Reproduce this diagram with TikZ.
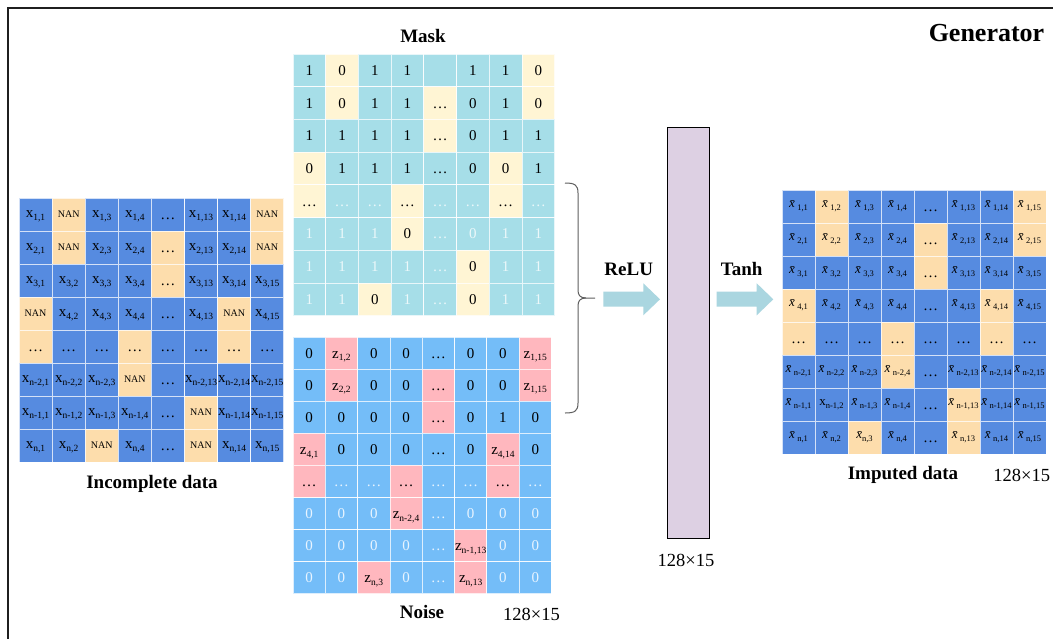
\documentclass[tikz,border=0pt]{standalone}
\usepackage{fontspec}
\setmainfont{Liberation Serif}
\definecolor{colB}{RGB}{86,139,224}
\definecolor{colT}{RGB}{253,221,172}
\definecolor{colC}{RGB}{166,222,232}
\definecolor{colc}{RGB}{166,222,232}
\definecolor{colY}{RGB}{255,245,212}
\definecolor{colN}{RGB}{116,189,248}
\definecolor{coln}{RGB}{116,189,248}
\definecolor{colP}{RGB}{255,183,190}
\colorlet{txtB}{black}
\colorlet{txtT}{black}
\colorlet{txtC}{black}
\colorlet{txtY}{black}
\colorlet{txtN}{black}
\colorlet{txtP}{black}
\definecolor{txtc}{RGB}{236,248,250}
\definecolor{txtn}{RGB}{232,244,255}
\definecolor{arrowcol}{RGB}{170,214,224}
\definecolor{barcol}{RGB}{221,208,227}
\definecolor{bracecol}{RGB}{95,95,95}
\newcommand\sbs[1]{\raisebox{-2.8pt}{\fontsize{9.5}{10}\selectfont #1}}
\newcommand\xs[1]{\raisebox{2pt}{x\sbs{#1}}}
\newcommand\zs[1]{z\sbs{#1}}
\newcommand\xb[1]{\raisebox{4pt}{{\fontsize{13}{14}\selectfont\itshape \={x}}\kern2.5pt\raisebox{-3pt}{\fontsize{8.5}{10}\selectfont #1}}}
\newcommand\xbn[1]{\raisebox{4pt}{{\fontsize{13}{14}\selectfont\itshape \={x}}\raisebox{-3pt}{\fontsize{8.5}{10}\selectfont #1}}}
\newcommand\xp[1]{\raisebox{4pt}{{\fontsize{13}{14}\selectfont x}\raisebox{-3pt}{\fontsize{8.5}{10}\selectfont #1}}}
\newcommand\nan{\raisebox{2pt}{\fontsize{10}{12}\selectfont NAN}}
\tikzset{
  cellbox/.style={inner sep=0pt, outer sep=0pt, draw=white, draw opacity=0.75, line width=0.8pt, font=\fontsize{15}{17}\selectfont, text height=10pt, text depth=0pt},
  title/.style={font=\bfseries\fontsize{19}{21}\selectfont, anchor=base, inner sep=0pt},
  dimlabel/.style={font=\fontsize{18.5}{20}\selectfont, anchor=base, inner sep=0pt},
  barbox/.style={draw=black, line width=0.9pt, fill=barcol, inner sep=0pt, minimum width=42pt, minimum height=411pt},
}
% #1 name, #2 x0, #3 y0, #4 cw, #5 ch, #6 row, #7 list
\newcommand\gridrow[7]{%
  \foreach \ty/\tx [count=\c] in {#7} {%
    \node[cellbox, minimum width=#4pt, minimum height=#5pt, fill=col\ty, text=txt\ty] (#1-#6-\c) at ({#2+(\c-0.5)*#4},{#3+(#6-0.5)*#5}) {\tx};
  }%
}
\begin{document}
\begin{tikzpicture}[x=1pt,y=-1pt]
\useasboundingbox (0,0) rectangle (1053,638);
\fill[white] (0,0) rectangle (1053,638);
\draw[line width=2.3pt, black!88] (8,700) -- (8,8) -- (1100,8);

% Incomplete data
\gridrow{inc}{19}{198}{33.1}{33}{1}{B/{\xs{1,1}}, T/\nan, B/{\xs{1,3}}, B/{\xs{1,4}}, B/…, B/{\xs{1,13}}, B/{\xs{1,14}}, T/\nan}
\gridrow{inc}{19}{198}{33.1}{33}{2}{B/{\xs{2,1}}, T/\nan, B/{\xs{2,3}}, B/{\xs{2,4}}, T/…, B/{\xs{2,13}}, B/{\xs{2,14}}, T/\nan}
\gridrow{inc}{19}{198}{33.1}{33}{3}{B/{\xs{3,1}}, B/{\xs{3,2}}, B/{\xs{3,3}}, B/{\xs{3,4}}, T/…, B/{\xs{3,13}}, B/{\xs{3,14}}, B/{\xs{3,15}}}
\gridrow{inc}{19}{198}{33.1}{33}{4}{T/\nan, B/{\xs{4,2}}, B/{\xs{4,3}}, B/{\xs{4,4}}, B/…, B/{\xs{4,13}}, T/\nan, B/{\xs{4,15}}}
\gridrow{inc}{19}{198}{33.1}{33}{5}{T/…, B/…, B/…, T/…, B/…, B/…, T/…, B/…}
\gridrow{inc}{19}{198}{33.1}{33}{6}{B/{\xs{n-2,1}}, B/{\xs{n-2,2}}, B/{\xs{n-2,3}}, T/\nan, B/…, B/{\xs{n-2,13}}, B/{\xs{n-2,14}}, B/{\xs{n-2,15}}}
\gridrow{inc}{19}{198}{33.1}{33}{7}{B/{\xs{n-1,1}}, B/{\xs{n-1,2}}, B/{\xs{n-1,3}}, B/{\xs{n-1,4}}, B/…, T/\nan, B/{\xs{n-1,14}}, B/{\xs{n-1,15}}}
\gridrow{inc}{19}{198}{33.1}{33}{8}{B/{\xs{n,1}}, B/{\xs{n,2}}, T/\nan, B/{\xs{n,4}}, B/…, T/\nan, B/{\xs{n,14}}, B/{\xs{n,15}}}
\node[title] (inclabel) at (152,488) {Incomplete data};

% Mask
\gridrow{mask}{293}{54}{32.7}{32.7}{1}{C/1, Y/0, C/1, C/1, C/{}, C/1, C/1, Y/0}
\gridrow{mask}{293}{54}{32.7}{32.7}{2}{C/1, Y/0, C/1, C/1, Y/…, C/0, C/1, Y/0}
\gridrow{mask}{293}{54}{32.7}{32.7}{3}{C/1, C/1, C/1, C/1, Y/…, C/0, C/1, C/1}
\gridrow{mask}{293}{54}{32.7}{32.7}{4}{Y/0, C/1, C/1, C/1, C/…, C/0, Y/0, C/1}
\gridrow{mask}{293}{54}{32.7}{32.7}{5}{Y/…, c/…, c/…, Y/…, c/…, c/…, Y/…, c/…}
\gridrow{mask}{293}{54}{32.7}{32.7}{6}{c/1, c/1, c/1, Y/0, c/…, c/0, c/1, c/1}
\gridrow{mask}{293}{54}{32.7}{32.7}{7}{c/1, c/1, c/1, c/1, c/…, Y/0, c/1, c/1}
\gridrow{mask}{293}{54}{32.7}{32.7}{8}{c/1, c/1, Y/0, c/1, c/…, Y/0, c/1, c/1}
\node[title] (masklabel) at (423,42) {Mask};

% Noise
\gridrow{noise}{293}{337}{32.3}{32.1}{1}{N/0, P/{\zs{1,2}}, N/0, N/0, N/…, N/0, N/0, P/{\zs{1,15}}}
\gridrow{noise}{293}{337}{32.3}{32.1}{2}{N/0, P/{\zs{2,2}}, N/0, N/0, P/…, N/0, N/0, P/{\zs{1,15}}}
\gridrow{noise}{293}{337}{32.3}{32.1}{3}{N/0, N/0, N/0, N/0, P/…, N/0, N/1, N/0}
\gridrow{noise}{293}{337}{32.3}{32.1}{4}{P/{\zs{4,1}}, N/0, N/0, N/0, N/…, N/0, P/{\zs{4,14}}, N/0}
\gridrow{noise}{293}{337}{32.3}{32.1}{5}{P/…, n/…, n/…, P/…, n/…, n/…, P/…, n/…}
\gridrow{noise}{293}{337}{32.3}{32.1}{6}{n/0, n/0, n/0, P/{\zs{n-2,4}}, n/…, n/0, n/0, n/0}
\gridrow{noise}{293}{337}{32.3}{32.1}{7}{n/0, n/0, n/0, n/0, n/…, P/{\zs{n-1,13}}, n/0, n/0}
\gridrow{noise}{293}{337}{32.3}{32.1}{8}{n/0, n/0, P/{\zs{n,3}}, n/0, n/…, P/{\zs{n,13}}, n/0, n/0}
\node[title] (noiselabel) at (422,618) {Noise};
\node[dimlabel] (noisedim) at (531.5,620) {128×15};

% Brace
\draw[bracecol, line width=1pt] (565,183) .. controls (575,183) and (578,185) .. (578,193) -- (578,290)
   .. controls (578,295) and (580,298) .. (586,298) -- (595,298);
\draw[bracecol, line width=1pt] (586,298) .. controls (580,298) and (578,301) .. (578,306) -- (578,403)
   .. controls (578,411) and (575,413) .. (565,413);

% ReLU arrow
\node[title] (relu) at (628.7,275) {ReLU};
\fill[arrowcol] (603.3,291.7) -- (643.3,291.7) -- (643.3,283.3) -- (660,299.3) -- (643.3,315.3) -- (643.3,306.7) -- (603.3,306.7) -- cycle;

% Bar
\node[barbox] (bar) at (688,332.5) {};
\node[dimlabel] (bardim) at (686,566) {128×15};

% Tanh arrow
\node[title] (tanh) at (741.7,275) {Tanh};
\fill[arrowcol] (716.7,291.7) -- (756.7,291.7) -- (756.7,283.3) -- (773.3,299.3) -- (756.7,315.3) -- (756.7,306.7) -- (716.7,306.7) -- cycle;

% Imputed data
\gridrow{imp}{782}{190}{33}{33}{1}{B/{\xb{1,1}}, T/{\xb{1,2}}, B/{\xb{1,3}}, B/{\xb{1,4}}, B/…, B/{\xb{1,13}}, B/{\xb{1,14}}, T/{\xb{1,15}}}
\gridrow{imp}{782}{190}{33}{33}{2}{B/{\xb{2,1}}, T/{\xb{2,2}}, B/{\xb{2,3}}, B/{\xb{2,4}}, T/…, B/{\xb{2,13}}, B/{\xb{2,14}}, T/{\xb{2,15}}}
\gridrow{imp}{782}{190}{33}{33}{3}{B/{\xb{3,1}}, B/{\xb{3,2}}, B/{\xb{3,3}}, B/{\xb{3,4}}, T/…, B/{\xb{3,13}}, B/{\xb{3,14}}, B/{\xb{3,15}}}
\gridrow{imp}{782}{190}{33}{33}{4}{T/{\xb{4,1}}, B/{\xb{4,2}}, B/{\xb{4,3}}, B/{\xb{4,4}}, B/…, B/{\xb{4,13}}, T/{\xb{4,14}}, B/{\xb{4,15}}}
\gridrow{imp}{782}{190}{33}{33}{5}{T/…, B/…, B/…, T/…, B/…, B/…, T/…, B/…}
\gridrow{imp}{782}{190}{33}{33}{6}{B/{\xb{n-2,1}}, B/{\xb{n-2,2}}, B/{\xb{n-2,3}}, T/{\xb{n-2,4}}, B/…, B/{\xb{n-2,13}}, B/{\xb{n-2,14}}, B/{\xb{n-2,15}}}
\gridrow{imp}{782}{190}{33}{33}{7}{B/{\xb{n-1,1}}, B/{\xp{n-1,2}}, B/{\xb{n-1,3}}, B/{\xb{n-1,4}}, B/…, T/{\xb{n-1,13}}, B/{\xb{n-1,14}}, B/{\xb{n-1,15}}}
\gridrow{imp}{782}{190}{33}{33}{8}{B/{\xb{n,1}}, B/{\xb{n,2}}, T/{\xbn{n,3}}, B/{\xb{n,4}}, B/…, T/{\xb{n,13}}, B/{\xb{n,14}}, B/{\xb{n,15}}}
\node[title] (implabel) at (903,479) {Imputed data};
\node[dimlabel] (impdim) at (1021.8,481.5) {128×15};

% Title
\node[title, font=\bfseries\fontsize{26}{28}\selectfont] (gen) at (986.5,41) {Generator};
\end{tikzpicture}
\end{document}
